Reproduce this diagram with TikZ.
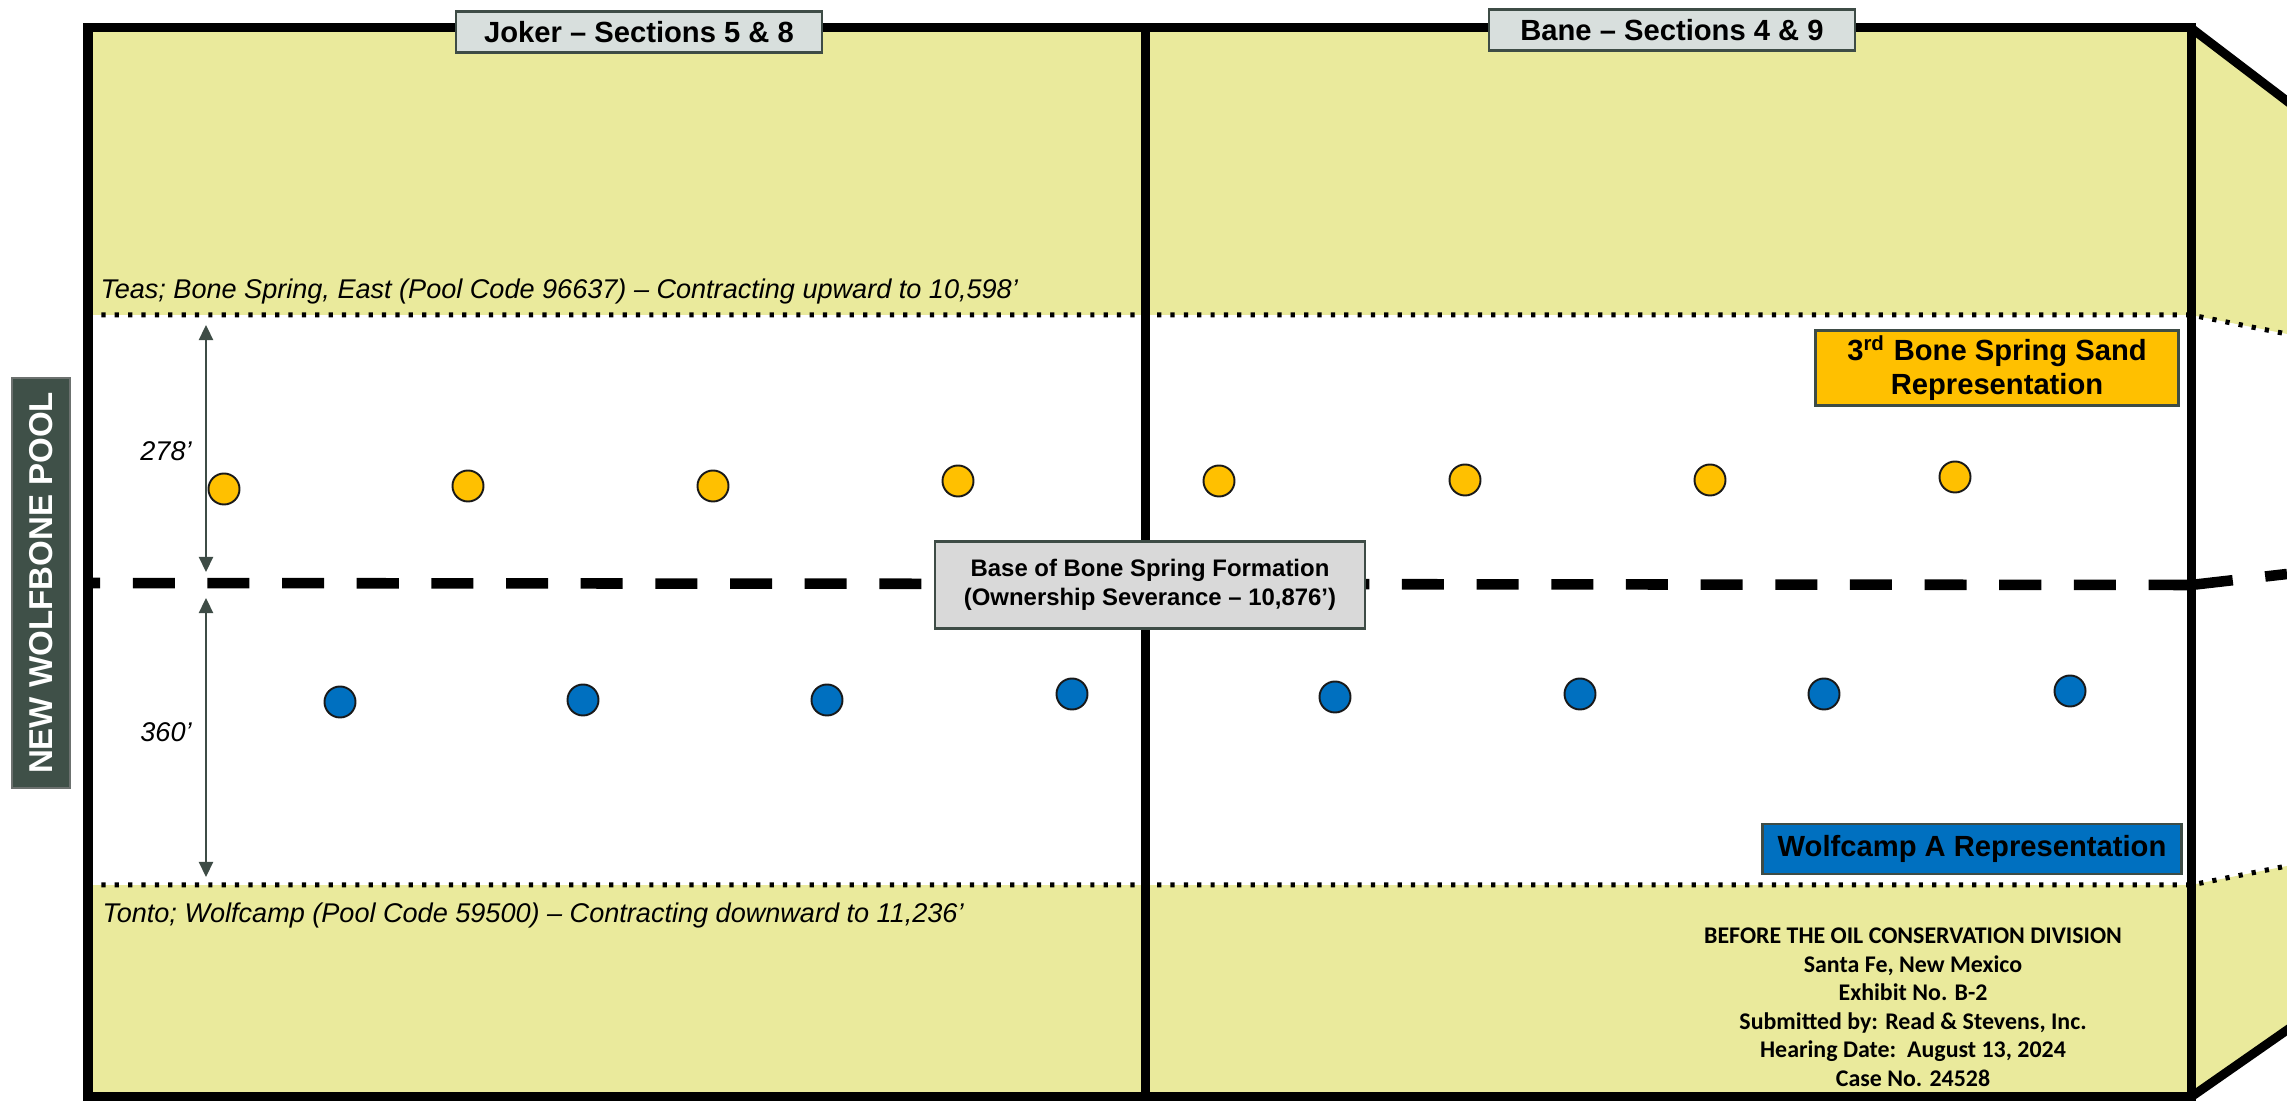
\documentclass[tikz,border=0pt]{standalone}
\usepackage{fontspec}
\setmainfont{Liberation Sans}
\newfontfamily\stampfont{Carlito}
\usetikzlibrary{arrows.meta}
\definecolor{khaki}{RGB}{234,234,156}
\definecolor{wolf}{RGB}{63,80,72}
\definecolor{labelgray}{RGB}{216,223,221}
\definecolor{basegray}{RGB}{217,217,217}
\definecolor{sandorange}{RGB}{255,192,0}
\definecolor{wcblue}{RGB}{0,112,192}
\definecolor{edgegray}{RGB}{62,76,70}
\begin{document}
\begin{tikzpicture}[x=0.01cm,y=-0.01cm,
  frame/.style={line width=2.56pt, line join=miter},
  dotline/.style={line width=1.42pt, dash pattern=on 1.2pt off 2.6pt},
  dashline/.style={line width=3pt, dash pattern=on 11.95pt off 9.28pt},
  sectlabel/.style={draw=edgegray, line width=0.7pt, fill=labelgray, font=\fontsize{8.3}{9.5}\selectfont\bfseries, minimum width=3.66cm, minimum height=0.41cm, inner sep=0pt},
  replabel/.style={draw=edgegray, line width=0.7pt, font=\fontsize{8.3}{9.7}\selectfont\bfseries, align=center, inner sep=0pt},
  italabel/.style={font=\fontsize{7.7}{9}\selectfont\itshape, inner sep=0pt},
  stampline/.style={font=\stampfont\fontsize{6.8}{8}\selectfont\bfseries, anchor=base, inner sep=0pt},
  ydot/.style={circle, draw=black!90, line width=0.55pt, fill=sandorange, minimum size=0.31cm, inner sep=0pt},
  bdot/.style={circle, draw=black!90, line width=0.55pt, fill=wcblue, minimum size=0.31cm, inner sep=0pt},
  dimarrow/.style={draw=edgegray, line width=0.7pt, {Triangle[length=4.3pt,width=4pt]}-{Triangle[length=4.3pt,width=4pt]}}
]
\useasboundingbox (0,0) rectangle (2287,1101);
\clip (0,0) rectangle (2287,1101);

% fills
\fill[khaki] (88,28) rectangle (2191,315);
\fill[khaki] (88,885) rectangle (2191,1097);
\fill[khaki] (2191,28) -- (2287,101) -- (2287,334) -- (2191,315) -- cycle;
\fill[khaki] (2191,885) -- (2287,866) -- (2287,1030) -- (2191,1097) -- cycle;

% dotted contract lines
\draw[dotline] (88,315) -- (2191,315) -- (2287,334);
\draw[dotline] (88,885) -- (2191,885) -- (2287,866);

% dashed base line
\draw[dashline, dash phase=8.5pt] (88,583) -- (2191,585);
\draw[dashline] (2191,585) -- (2287,574);

% frame
\draw[frame] (88,28) rectangle (2191,1097);
\draw[frame] (1145,28) -- (1145,1097);
\draw[frame] (2191,28) -- (2300,111);
\draw[frame] (2191,1097) -- (2300,1021);

% circles
\foreach \n/\x/\y in {1/224/489, 2/468/486, 3/713/486, 4/958/481, 5/1219/481, 6/1465/480, 7/1710/480, 8/1955/477}
  \node[ydot] (y\n) at (\x,\y) {};
\foreach \n/\x/\y in {1/340/702, 2/583/700, 3/827/700, 4/1072/694, 5/1335/697, 6/1580/694, 7/1824/694, 8/2070/691}
  \node[bdot] (b\n) at (\x,\y) {};

% dimension arrows
\coordinate (a1) at (206,325);
\coordinate (a2) at (206,572);
\coordinate (a3) at (206,598);
\coordinate (a4) at (206,877);
\draw[dimarrow] (a1) -- (a2);
\draw[dimarrow] (a3) -- (a4);
\node[italabel] (d278) at (166,451) {278’};
\node[italabel] (d360) at (166,732) {360’};

% texts
\node[italabel, anchor=base west] (teas) at (100,299) {Teas; Bone Spring, East (Pool Code 96637) – Contracting upward to 10,598’};
\node[italabel, anchor=base west] (tonto) at (102,923) {Tonto; Wolfcamp (Pool Code 59500) – Contracting downward to 11,236’};

% labels
\node[sectlabel] (joker) at (639,32) {Joker – Sections 5 \& 8};
\node[sectlabel] (bane) at (1672,30) {Bane – Sections 4 \& 9};
\node[replabel, fill=sandorange, minimum width=3.63cm, minimum height=0.75cm] (sand) at (1997,368) {3\textsuperscript{rd} Bone Spring Sand\\Representation};
\node[replabel, fill=wcblue, minimum width=4.19cm, minimum height=0.50cm] (wca) at (1972,849) {Wolfcamp A Representation};
\node[draw=edgegray, line width=0.7pt, fill=basegray, align=center, inner sep=0pt, minimum width=4.30cm, minimum height=0.87cm, font=\fontsize{6.8}{8.3}\selectfont\bfseries] (base) at (1150,585) {Base of Bone Spring Formation\\(Ownership Severance – 10,876’)};
\node[draw=gray!70!wolf, line width=0.6pt, fill=wolf, rotate=90, minimum width=4.09cm, minimum height=0.58cm, inner sep=0pt, text=white, font=\fontsize{9.4}{11}\selectfont\bfseries] (pool) at (41,583) {NEW WOLFBONE POOL};

% stamp
\node[stampline] (s1) at (1913,944) {BEFORE THE OIL CONSERVATION DIVISION};
\node[stampline] (s2) at (1913,973) {Santa Fe, New Mexico};
\node[stampline] (s3) at (1913,1001) {Exhibit No. B-2};
\node[stampline] (s4) at (1913,1030) {Submitted by: Read \& Stevens, Inc.};
\node[stampline] (s5) at (1913,1058) {Hearing Date:\ \ August 13, 2024};
\node[stampline] (s6) at (1913,1087) {Case No. 24528};
\end{tikzpicture}
\end{document}
